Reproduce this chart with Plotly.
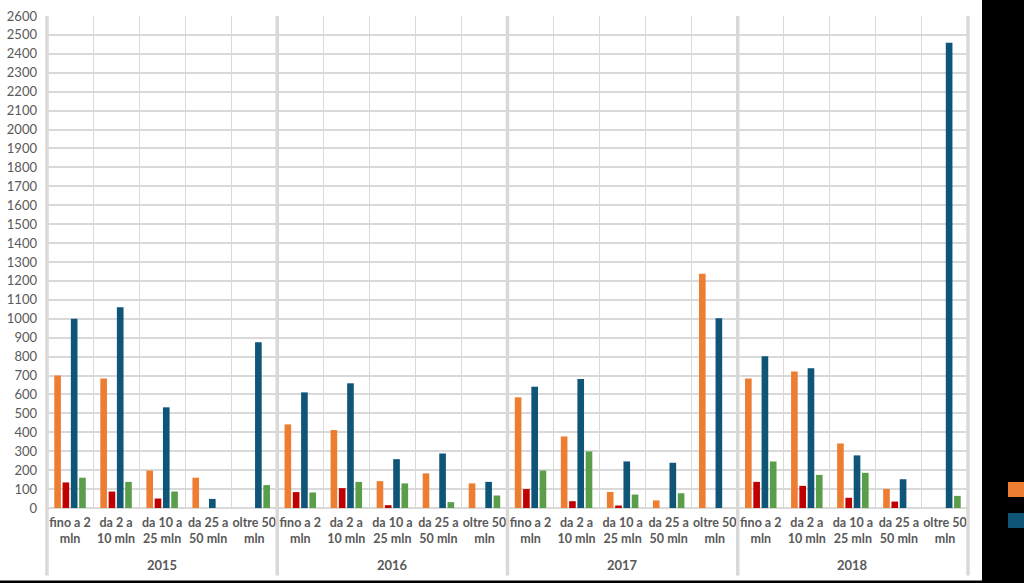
import plotly.graph_objects as go

years = ["2015", "2016", "2017", "2018"]
categories = ["fino a 2<br>mln", "da 2 a<br>10 mln", "da 10 a<br>25 mln", "da 25 a<br>50 mln", "oltre 50<br>mln"]

# values per year, in category order
s_orange = [700, 685, 198, 160, None,
            442, 412, 142, 183, 130,
            585, 378, 85, 40, 1238,
            684, 721, 341, 101, None]
s_red = [135, 87, 50, None, None,
         84, 105, 15, None, None,
         100, 36, 13, None, None,
         138, 117, 54, 34, None]
s_blue = [1000, 1061, 532, 48, 876,
          611, 659, 258, 288, 138,
          641, 682, 246, 239, 1003,
          802, 738, 278, 152, 2459]
s_green = [160, 138, 87, None, 121,
           82, 138, 130, 31, 66,
           198, 299, 71, 78, None,
           246, 175, 186, None, 64]

series_names = ["Serie 1", "Serie 2", "Serie 3", "Serie 4"]
colors = ["#ED7D31", "#C00000", "#0E5577", "#5B9E4A"]

# unique category keys (year + class), labelled with the class only
x_keys = [f"{y} {c}" for y in years for c in categories]
x_text = [c for _ in years for c in categories]

fig = go.Figure()
for name, vals, col in zip(series_names, [s_orange, s_red, s_blue, s_green], colors):
    fig.add_trace(go.Bar(x=x_keys, y=vals, name=name,
                         marker=dict(color=col, line=dict(width=0))))

grid = "#D9D9D9"
shapes = []
# thick year separators
for k in range(len(years) + 1):
    xp = k / len(years)
    shapes.append(dict(type="line", xref="paper", yref="paper", x0=xp, x1=xp,
                       y0=-0.137, y1=1.0, line=dict(color=grid, width=3.5), layer="above"))
# black margin on the right and bottom
shapes.append(dict(type="rect", xref="paper", yref="paper", x0=(982 - 47) / 921, x1=1.2,
                   y0=-0.3, y1=1.2, fillcolor="black", line=dict(width=0), layer="above"))
shapes.append(dict(type="rect", xref="paper", yref="paper", x0=-0.2, x1=1.2,
                   y0=-0.3, y1=(508 - 580.5) / 492, fillcolor="black", line=dict(width=0), layer="above"))
# partially visible legend swatches
shapes.append(dict(type="rect", xref="paper", yref="paper", x0=(1008 - 47) / 921, x1=1.2,
                   y0=(508 - 497) / 492, y1=(508 - 482) / 492, fillcolor=colors[0], line=dict(width=0), layer="above"))
shapes.append(dict(type="rect", xref="paper", yref="paper", x0=(1008 - 47) / 921, x1=1.2,
                   y0=(508 - 528) / 492, y1=(508 - 513) / 492, fillcolor=colors[2], line=dict(width=0), layer="above"))

# year labels centred under each group (middle category of the group)
annotations = []
for i, y in enumerate(years):
    annotations.append(dict(x=x_keys[i * len(categories) + 2], xref="x", y=(508 - 565) / 492, yref="paper",
                            text=y, showarrow=False, xanchor="center", yanchor="middle",
                            font=dict(size=13, color="#595959", weight="bold")))

fig.update_layout(
    width=1024, height=583,
    margin=dict(l=47, r=56, t=16, b=75, pad=0),
    paper_bgcolor="white", plot_bgcolor="white",
    barmode="group", bargap=0.28, bargroupgap=0.2,
    showlegend=False,
    font=dict(family="Lato, 'Open Sans', sans-serif", color="#595959", size=13),
    shapes=shapes,
    annotations=annotations,
    xaxis=dict(type="category", tickvals=x_keys, ticktext=x_text,
               showgrid=True, gridcolor=grid, gridwidth=1,
               showline=False, ticks="", tickson="boundaries", tickangle=0,
               automargin=False, ticklabelstandoff=5,
               tickfont=dict(size=12.5, color="#595959", weight="bold")),
    yaxis=dict(range=[0, 2600], dtick=100, showgrid=True, gridcolor=grid, gridwidth=1.5,
               zeroline=True, zerolinecolor=grid, zerolinewidth=1.5, showline=False,
               ticks="", ticklabelstandoff=9, automargin=False,
               tickfont=dict(size=13, color="#595959")),
)

fig.write_html("out.html")
